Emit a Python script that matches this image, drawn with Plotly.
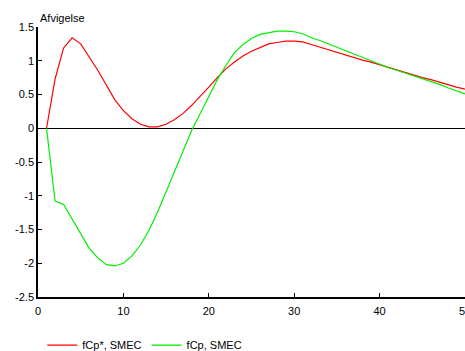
import plotly.graph_objects as go

x_vals = list(range(1, 51))
fcp_star = [0, 0.73, 1.19, 1.34, 1.25, 1.06, 0.86, 0.64, 0.42, 0.26,
            0.14, 0.06, 0.02, 0.02, 0.06, 0.13, 0.22, 0.34, 0.47, 0.61,
            0.75, 0.88, 0.98, 1.07, 1.14, 1.20, 1.25, 1.27, 1.29, 1.29,
            1.28, 1.24, 1.20, 1.16, 1.13, 1.09, 1.05, 1.01, 0.98, 0.94,
            0.90, 0.87, 0.83, 0.79, 0.75, 0.72, 0.68, 0.65, 0.61, 0.58]
fcp = [0, -1.08, -1.13, -1.35, -1.57, -1.78, -1.92, -2.02, -2.04, -2.00,
       -1.89, -1.73, -1.51, -1.24, -0.94, -0.63, -0.32, -0.03, 0.22, 0.47,
       0.72, 0.93, 1.12, 1.24, 1.33, 1.39, 1.42, 1.44, 1.44, 1.43,
       1.40, 1.34, 1.30, 1.25, 1.20, 1.14, 1.09, 1.04, 0.99, 0.95,
       0.90, 0.86, 0.82, 0.78, 0.73, 0.69, 0.65, 0.60, 0.56, 0.51]
x_ticks = [0, 10, 20, 30, 40, 50]
y_ticks = [-2.5, -2, -1.5, -1, -0.5, 0, 0.5, 1, 1.5]
y_labels = ["-2.5", "-2", "-1.5", "-1", "-0.5", "0", "0.5", "1", "1.5"]

fig = go.Figure()
fig.add_trace(go.Scatter(x=x_vals, y=fcp_star, mode="lines", name="fCp*, SMEC",
                         line=dict(color="#ff0000", width=1.2)))
fig.add_trace(go.Scatter(x=x_vals, y=fcp, mode="lines", name="fCp, SMEC",
                         line=dict(color="#00ee00", width=1.2)))

fig.update_layout(
    width=465, height=351,
    margin=dict(l=38, r=0, t=27, b=54),
    paper_bgcolor="white", plot_bgcolor="white",
    font=dict(family="Liberation Sans, Arial, sans-serif", size=11, color="black"),
    showlegend=True,
    legend=dict(orientation="h", x=0.01, xanchor="left",
                yref="container", y=0.017, yanchor="middle",
                font=dict(size=11), itemwidth=30, tracegroupgap=0,
                bgcolor="rgba(0,0,0,0)"),
    annotations=[dict(text="Afvigelse", x=0, xref="paper", xanchor="left",
                      y=1, yref="paper", yanchor="bottom", yshift=1,
                      showarrow=False, font=dict(size=11))],
)
fig.update_xaxes(range=[0, 50], tickvals=x_ticks, ticks="inside", ticklen=4,
                 tickcolor="black", showline=True, linecolor="black", linewidth=1.5,
                 showgrid=False, zeroline=False, ticklabeloverflow="allow",
                 ticklabelstandoff=3, automargin=False)
fig.update_yaxes(range=[-2.5, 1.5], tickvals=y_ticks, ticktext=y_labels,
                 ticks="inside", ticklen=4, tickcolor="black", showline=True,
                 linecolor="black", linewidth=1.5, showgrid=False,
                 zeroline=True, zerolinecolor="black", zerolinewidth=1,
                 automargin=False)

fig.write_html("out.html")
